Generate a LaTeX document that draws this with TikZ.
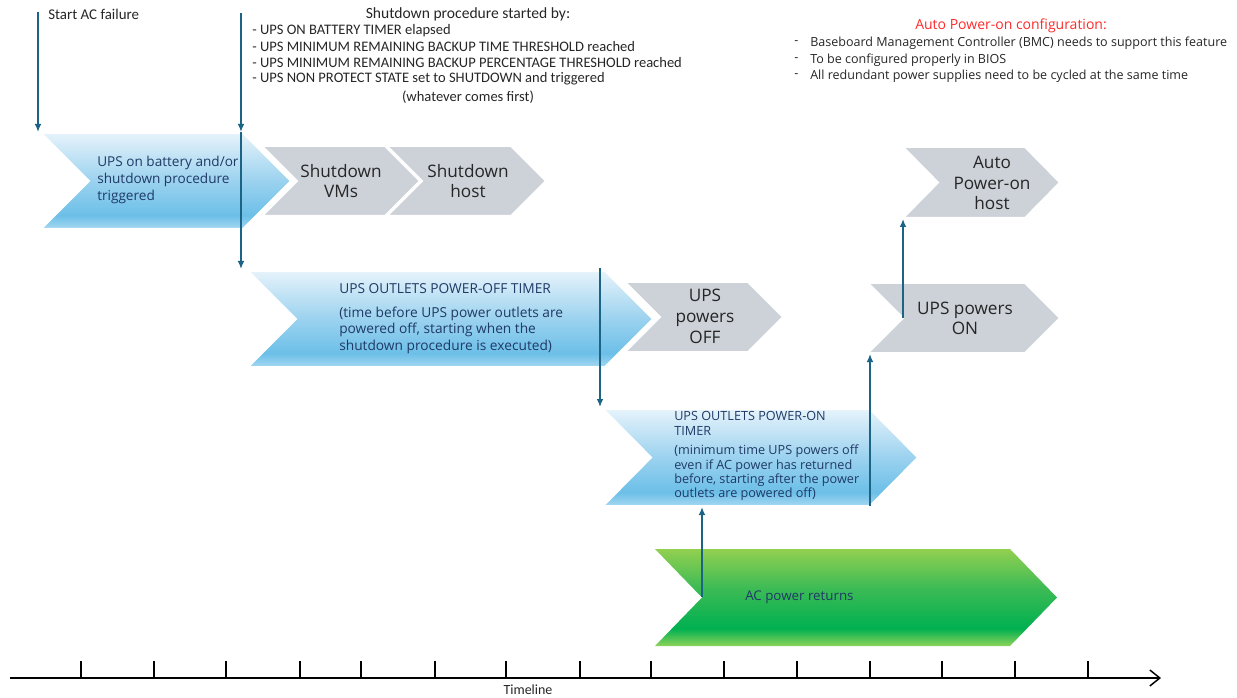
\documentclass[tikz,border=0pt]{standalone}
\usepackage{fontspec}
\setmainfont{Open Sans}
\newfontfamily\narrowfont{Carlito}
\usetikzlibrary{arrows.meta}
\definecolor{bT}{HTML}{E6F3FB}
\definecolor{bM}{HTML}{9BD2EF}
\definecolor{bD}{HTML}{6CBFE8}
\definecolor{bB}{HTML}{A6D8F1}
\definecolor{gT}{HTML}{92D050}
\definecolor{gM}{HTML}{3DBB55}
\definecolor{gD}{HTML}{00B050}
\definecolor{gB}{HTML}{8ED35A}
\definecolor{grayfill}{HTML}{CDD2D9}
\definecolor{arrowcol}{HTML}{1B6485}
\definecolor{navy}{HTML}{1F3A66}
\definecolor{txt}{HTML}{262626}
\definecolor{redtxt}{HTML}{FF2A2A}
\pgfdeclareverticalshading{bluegrad}{100bp}{color(0bp)=(bB); color(25bp)=(bB); color(32bp)=(bD); color(50bp)=(bM); color(75bp)=(bT); color(100bp)=(bT)}
\pgfdeclareverticalshading{greengrad}{100bp}{color(0bp)=(gB); color(25bp)=(gB); color(34bp)=(gD); color(55bp)=(gM); color(75bp)=(gT); color(100bp)=(gT)}
% name, style, x1, y1, x2, y2, depth
\newcommand\drawchev[7]{%
  \path[#2] (#3,#4) -- ({#5-#7},#4) -- (#5,{(#4+#6)/2}) -- ({#5-#7},#6) -- (#3,#6) -- ({#3+#7},{(#4+#6)/2}) -- cycle;
  \coordinate (#1-tl) at (#3,#4);
  \coordinate (#1-bl) at (#3,#6);
  \coordinate (#1-notch) at ({#3+#7},{(#4+#6)/2});
  \coordinate (#1-tip) at (#5,{(#4+#6)/2});
}
\tikzset{
  bluechev/.style={shade, shading=bluegrad, draw=white, line width=1.5pt},
  greenchev/.style={shade, shading=greengrad},
  graychev/.style={fill=grayfill, draw=white, line width=1.5pt},
  conn/.style={draw=arrowcol, line width=1.1pt, -{Latex[length=6pt,width=5pt]}},
  hdr/.style={text=txt, inner sep=0pt, font=\narrowfont\fontsize{10.9}{12}\selectfont},
  hdrtitle/.style={text=txt, inner sep=0pt, font=\narrowfont\fontsize{11.7}{12}\selectfont},
  cfg/.style={text=txt, inner sep=0pt, font=\fontsize{9.4}{12}\selectfont},
  cfgtitle/.style={text=redtxt, inner sep=0pt, font=\fontsize{10.5}{12}\selectfont},
  graytxt/.style={text=txt, inner sep=0pt, align=center},
  bluetxt/.style={text=navy, inner sep=0pt, align=left},
}
\begin{document}
\begin{tikzpicture}[x=0.75pt,y=-0.75pt]
\useasboundingbox (0,0) rectangle (1237,698);

% gray chevrons
\drawchev{vms}{graychev}{262}{146}{420}{216}{35}
\drawchev{host}{graychev}{387}{146}{546}{216}{35}
\drawchev{upsoff}{graychev}{625}{282}{783}{352}{35}
\drawchev{upson}{graychev}{868}{283}{1060}{353}{35}
\drawchev{auto}{graychev}{903}{147}{1060}{218}{35}
% blue chevrons
\drawchev{bat}{bluechev}{41}{133}{291}{229}{48}
\drawchev{off}{bluechev}{248}{271}{653}{367}{48}
\drawchev{on}{bluechev}{603}{409}{918}{506}{48}
% green chevron
\drawchev{ac}{greenchev}{655}{549}{1057}{646}{47}

% texts in chevrons
\node[bluetxt, anchor=west, font=\fontsize{10.2}{12.75}\selectfont] (battxt) at (97,180) {UPS on battery and/or\\shutdown procedure\\triggered};
\node[graytxt, font=\fontsize{12.9}{15}\selectfont] (vmstxt) at (341,181) {Shutdown\\VMs};
\node[graytxt, font=\fontsize{12.9}{15}\selectfont] (hosttxt) at (468,181) {Shutdown\\host};
\node[bluetxt, anchor=west, font=\fontsize{10.3}{12.4}\selectfont] (offtitle) at (339,289) {UPS OUTLETS POWER-OFF TIMER};
\node[bluetxt, anchor=west, font=\fontsize{10.3}{12.4}\selectfont] (offbody) at (339,330) {(time before UPS power outlets are\\powered off, starting when the\\shutdown procedure is executed)};
\node[graytxt, font=\fontsize{12.9}{15.75}\selectfont] (upsofftxt) at (705,316) {UPS\\powers\\OFF};
\node[bluetxt, anchor=west, font=\fontsize{9.5}{11.25}\selectfont] (ontitle) at (674,423.5) {UPS OUTLETS POWER-ON\\TIMER};
\node[bluetxt, anchor=west, font=\fontsize{9.5}{10.7}\selectfont] (onbody) at (674,473) {(minimum time UPS powers off\\even if AC power has returned\\before, starting after the power\\outlets are powered off)};
\node[graytxt, font=\fontsize{12.9}{15}\selectfont] (upsontxt) at (965,318) {UPS powers\\ON};
\node[graytxt, font=\fontsize{12.9}{15.4}\selectfont] (autotxt) at (992,183) {Auto\\Power-on\\host};
\node[bluetxt, anchor=west, font=\fontsize{10}{12}\selectfont] (actxt) at (745,597) {AC power returns};

% header texts
\node[hdr, anchor=west, font=\narrowfont\fontsize{11.2}{12}\selectfont] (startac) at (48,14) {Start AC failure};
\node[hdrtitle] (sdtitle) at (468,14) {Shutdown procedure started by:};
\node[hdr, anchor=west] (sd1) at (252,31) {- UPS ON BATTERY TIMER elapsed};
\node[hdr, anchor=west] (sd2) at (252,47) {- UPS MINIMUM REMAINING BACKUP TIME THRESHOLD reached};
\node[hdr, anchor=west] (sd3) at (252,63) {- UPS MINIMUM REMAINING BACKUP PERCENTAGE THRESHOLD reached};
\node[hdr, anchor=west] (sd4) at (252,79) {- UPS NON PROTECT STATE set to SHUTDOWN and triggered};
\node[hdr] (sdw) at (468,97) {(whatever comes first)};

\node[cfgtitle] (cfgt) at (1011,26) {Auto Power-on configuration:};
\node[cfg, anchor=west] (c1d) at (794,43) {-};
\node[cfg, anchor=west] (c1) at (810,43) {Baseboard Management Controller (BMC) needs to support this feature};
\node[cfg, anchor=west] (c2d) at (794,60) {-};
\node[cfg, anchor=west] (c2) at (810,60) {To be configured properly in BIOS};
\node[cfg, anchor=west] (c3d) at (794,76) {-};
\node[cfg, anchor=west] (c3) at (810,76) {All redundant power supplies need to be cycled at the same time};

% connectors
\coordinate (acstart) at (38,12);
\coordinate (acin) at (38,132);
\coordinate (sdstart) at (241,13);
\coordinate (sdmid) at (241,132);
\coordinate (offin) at (241,269);
\coordinate (offout) at (600,268);
\coordinate (onin) at (600,407);
\coordinate (acup) at (702,597);
\coordinate (onbot) at (702,507);
\coordinate (onend) at (870,506);
\coordinate (upsonin) at (870,354);
\coordinate (upsonmid) at (903,318);
\coordinate (autoin) at (903,219);
\draw[conn] (acstart) -- (acin);
\draw[conn] (sdstart) -- (sdmid);
\draw[conn] (sdmid) -- (offin);
\draw[conn] (offout) -- (onin);
\draw[conn] (acup) -- (onbot);
\draw[conn] (onend) -- (upsonin);
\draw[conn] (upsonmid) -- (autoin);

% timeline
\coordinate (tl0) at (10,678);
\coordinate (tl1) at (1161,678);
\draw[line width=1.2pt, -{Straight Barb[length=7.5pt,width=12pt,line width=1.1pt]}] (tl0) -- (tl1);
\foreach \x in {81,154,226,300,361,435,506,580,651,724,797,870,942,1015,1088}
  \draw[line width=0.8pt] (\x,661) -- (\x,678);
\node[hdr, font=\narrowfont\fontsize{10.5}{12}\selectfont] (tlabel) at (528,689.5) {Timeline};
\end{tikzpicture}
\end{document}
